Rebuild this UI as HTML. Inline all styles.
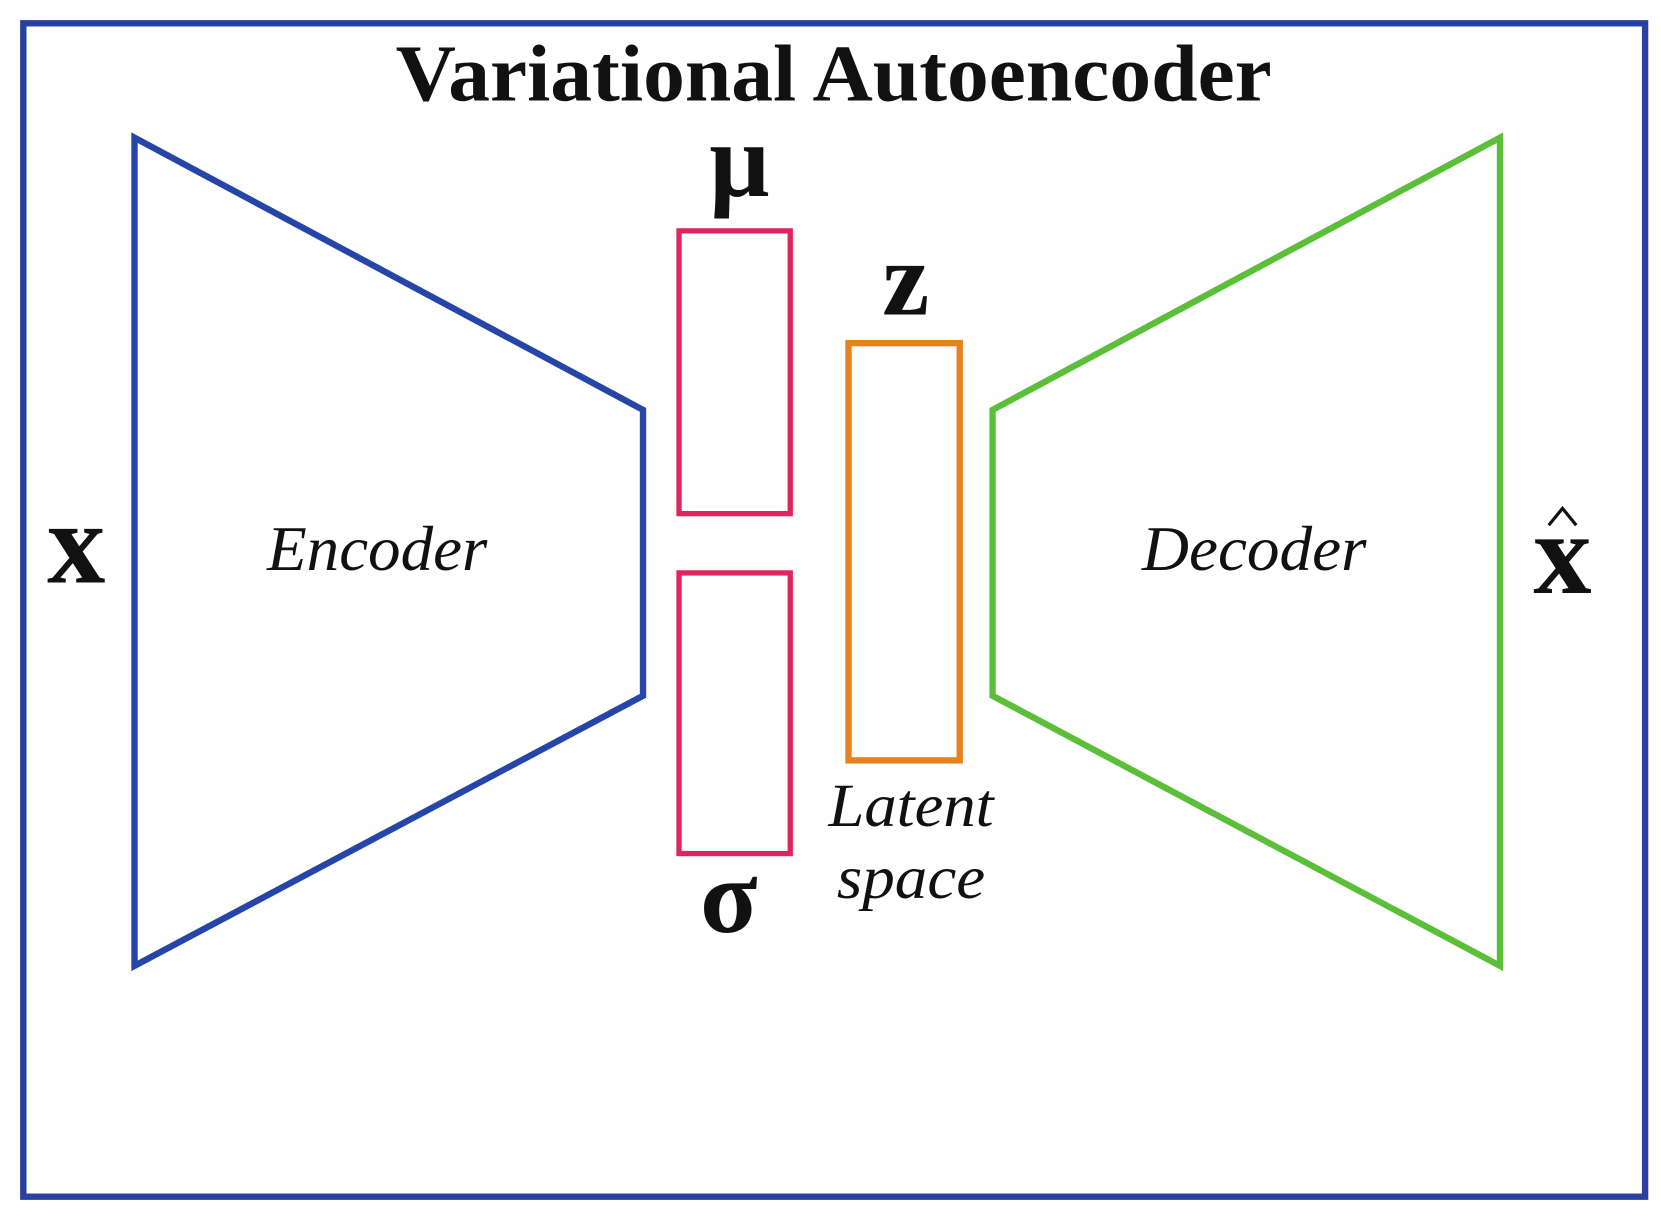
<!DOCTYPE html>
<html><head><style>html,body{margin:0;padding:0;background:#fff}svg{display:block}</style></head>
<body>
<svg width="1661" height="1220" viewBox="0 0 1568 1152" xmlns="http://www.w3.org/2000/svg" preserveAspectRatio="none">
<rect width="1568" height="1152" fill="#fff"/>
<rect x="22" y="22" width="1531" height="1108" fill="none" stroke="#2a40a0" stroke-width="6"/>
<g font-family="Liberation Serif, serif" fill="#111">
<text x="787" y="95" text-anchor="middle" font-weight="bold" font-size="76" textLength="827" lengthAdjust="spacingAndGlyphs">Variational Autoencoder</text>
<polygon points="127,130 607,387 607,657 127,912" fill="none" stroke="#2545a8" stroke-width="6"/>
<polygon points="1416,130 937,387 937,657 1416,912" fill="none" stroke="#5cbf3a" stroke-width="6"/>
<rect x="641" y="218" width="105" height="267" fill="none" stroke="#e0245e" stroke-width="5"/>
<rect x="641" y="541" width="105" height="265" fill="none" stroke="#e0245e" stroke-width="5"/>
<rect x="801" y="324" width="105" height="394" fill="none" stroke="#e8821e" stroke-width="6"/>
<text x="698" y="185" text-anchor="middle" font-weight="bold" font-size="100">μ</text>
<text x="855" y="297" text-anchor="middle" font-weight="bold" font-size="100">z</text>
<text x="688" y="880" text-anchor="middle" font-weight="bold" font-size="100">σ</text>
<text x="72" y="550" text-anchor="middle" font-weight="bold" font-size="110">x</text>
<text x="1475" y="560" text-anchor="middle" font-weight="bold" font-size="110">x</text>
<polyline points="1462,496 1475,480 1488,496" fill="none" stroke="#111" stroke-width="3"/>
<text x="356" y="538" text-anchor="middle" font-style="italic" font-size="60" textLength="208" lengthAdjust="spacingAndGlyphs">Encoder</text>
<text x="1184" y="538" text-anchor="middle" font-style="italic" font-size="60" textLength="212" lengthAdjust="spacingAndGlyphs">Decoder</text>
<text x="860" y="780" text-anchor="middle" font-style="italic" font-size="58" textLength="156" lengthAdjust="spacingAndGlyphs">Latent</text>
<text x="860" y="848" text-anchor="middle" font-style="italic" font-size="58" textLength="140" lengthAdjust="spacingAndGlyphs">space</text>
</g>
</svg>
</body></html>
